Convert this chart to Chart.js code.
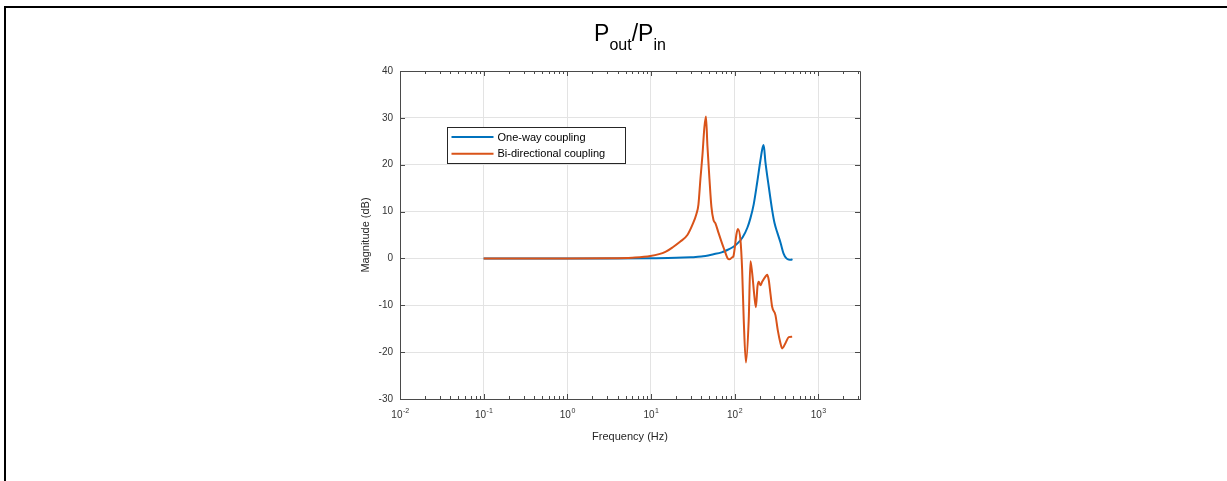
<!DOCTYPE html>
<html>
<head>
<meta charset="utf-8">
<script src="https://cdn.jsdelivr.net/npm/chart.js@4.4.1/dist/chart.umd.min.js"></script>
<style>
  html, body { margin: 0; padding: 0; background: #fff; }
  #wrap { position: relative; width: 1227px; height: 481px; overflow: hidden; background: #fff; }
  #frame { position: absolute; left: 4px; top: 6px; right: -4px; bottom: -4px; border-top: 2px solid #000; border-left: 2px solid #000; pointer-events: none; }
  #title { position: absolute; left: 400px; width: 460px; top: 22px; text-align: center; font: 23px "Liberation Sans", Arial, sans-serif; line-height: 23px; color: #000; }
  #title span { position: relative; top: 9px; font-size: 16px; }
  canvas { position: absolute; left: 0; top: 0; }
</style>
</head>
<body>
<div id="wrap">
  <canvas id="bode" width="1227" height="481"></canvas>
  <div id="title">P<span>out</span>/P<span>in</span></div>
  <div id="frame"></div>
</div>
<script>
// ---- data ----
const oneWayFreq = [0.1, 0.3, 1, 3, 10, 20, 30, 40, 56, 70, 82, 97, 107, 125, 142.6, 154.9, 169.7, 186.4, 204.1, 215.6, 222.8, 234.2, 256.6, 281.7, 300.1, 326.1, 354, 384.6, 417.7, 447.4, 472.6, 492.6];
const oneWayMag  = [0, 0, 0, 0, 0.05, 0.12, 0.25, 0.4, 0.9, 1.3, 1.8, 2.5, 3.1, 4.5, 6.6, 8.6, 11.6, 16.2, 21, 23.5, 24.2, 20.5, 15.3, 10.3, 7.6, 5.4, 3.4, 1.1, 0.0, -0.25, -0.3, -0.15];

const biDirFreq = [0.1, 0.3, 1, 3, 6, 9.87, 14.9, 18.6, 22.5, 27.3, 31.4, 35.0, 37.0, 39.1, 41.3, 43.6, 45.5, 47.4, 50.1, 52.9, 56.0, 59.1, 64.2, 69.7, 75.7, 82.2, 87, 93, 97, 101, 105, 109.5, 117.7, 123.3, 128.8, 136.8, 147.8, 154.9, 162.4, 173.0, 180.3, 187.9, 194.6, 204.0, 213.8, 233.9, 245.3, 256.4, 268.7, 281.5, 308.3, 328.6, 354.0, 370.6, 406.0, 444.8, 488.4];
const biDirMag  = [0, 0, 0, 0.03, 0.15, 0.5, 1.4, 2.5, 3.6, 5.0, 7.2, 9.5, 11.5, 17, 22, 28, 30.3, 24, 17, 11, 8.2, 7.5, 5.5, 3.6, 1.8, 0.1, -0.2, 0.2, 0.5, 2.5, 5, 6.3, 3.9, -2.5, -13.1, -22.2, -13, -0.6, -3.1, -8.2, -10.4, -6.0, -5, -5.7, -5, -3.9, -3.5, -4.6, -7.5, -10.3, -12.1, -15.3, -18.1, -19.2, -18.1, -16.8, -16.7];

const seriesLabels = ["One-way coupling", "Bi-directional coupling"];
const seriesColors = ["#0072BD", "#D95319"];

const yTicks = [-30, -20, -10, 0, 10, 20, 30, 40];
const xExponents = [-2, -1, 0, 1, 2, 3];
const X_MIN = 0.01, X_MAX = 3162.28;

const FONT = '"Liberation Sans", Arial, Helvetica, sans-serif';
const AXIS_COLOR = "#4a4a4a";
const GRID_COLOR = "#e3e3e3";
const TEXT_COLOR = "#333333";

const toPoints = (xs, ys) => xs.map((f, i) => ({ x: f, y: ys[i] }));
const isDecade = (v) => {
  if (!(v > 0)) return false;
  const l = Math.log10(v);
  return Math.abs(l - Math.round(l)) < 1e-6;
};

// MATLAB-ish box, inward ticks, superscript x labels
const boxPlugin = {
  id: "box",
  afterDraw(chart) {
    const { ctx, chartArea: a, scales } = chart;
    const x = scales.x, y = scales.y;
    const al = (v) => Math.round(v) + 0.5;
    ctx.save();
    ctx.strokeStyle = AXIS_COLOR;
    ctx.lineWidth = 1;
    ctx.beginPath();
    ctx.moveTo(al(a.left), al(a.top));
    ctx.lineTo(al(a.right), al(a.top));
    ctx.lineTo(al(a.right), al(a.bottom));
    ctx.stroke();

    // x ticks (major + minor), bottom and top, pointing inward
    ctx.beginPath();
    xExponents.forEach((e) => {
      for (let m = 1; m <= 9; m++) {
        const v = m * Math.pow(10, e);
        if (v < X_MIN || v > X_MAX) continue;
        const px = al(x.getPixelForValue(v));
        const len = m === 1 ? 5 : 3;
        ctx.moveTo(px, a.bottom);
        ctx.lineTo(px, a.bottom - len);
        ctx.moveTo(px, a.top);
        ctx.lineTo(px, a.top + len);
      }
    });
    // y ticks left and right
    yTicks.forEach((t) => {
      const py = al(y.getPixelForValue(t));
      ctx.moveTo(a.left, py);
      ctx.lineTo(a.left + 5, py);
      ctx.moveTo(a.right, py);
      ctx.lineTo(a.right - 5, py);
    });
    ctx.stroke();

    // x tick labels 10^n
    ctx.fillStyle = TEXT_COLOR;
    ctx.textBaseline = "alphabetic";
    ctx.textAlign = "left";
    xExponents.forEach((e) => {
      const px = x.getPixelForValue(Math.pow(10, e));
      ctx.font = "10px " + FONT;
      const bw = ctx.measureText("10").width;
      ctx.font = "7px " + FONT;
      const sup = String(e);
      const sw = ctx.measureText(sup).width;
      const start = px - (bw + sw) / 2;
      ctx.font = "10px " + FONT;
      ctx.fillText("10", start, a.bottom + 19);
      ctx.font = "7px " + FONT;
      ctx.fillText(sup, start + bw + 0.5, a.bottom + 14);
    });
    ctx.restore();
  },
};

// legend box inside the plot, upper left
const legendPlugin = {
  id: "inlegend",
  afterDatasetsDraw(chart) {
    const { ctx, chartArea: a } = chart;
    const bx = a.left + 47.5, by = a.top + 56.5, bw = 178, bh = 36;
    ctx.save();
    ctx.fillStyle = "#fff";
    ctx.fillRect(bx, by, bw, bh);
    ctx.strokeStyle = "#262626";
    ctx.lineWidth = 1;
    ctx.strokeRect(bx, by, bw, bh);
    ctx.font = "11px " + FONT;
    ctx.textBaseline = "middle";
    ctx.textAlign = "left";
    chart.data.datasets.forEach((ds, i) => {
      const ly = by + 9.5 + i * 16.7;
      ctx.strokeStyle = ds.borderColor;
      ctx.lineWidth = 2;
      ctx.beginPath();
      ctx.moveTo(bx + 4, ly);
      ctx.lineTo(bx + 46, ly);
      ctx.stroke();
      ctx.fillStyle = "#000";
      ctx.fillText(ds.label, bx + 50, ly + 0.5);
    });
    ctx.restore();
  },
};

new Chart(document.getElementById("bode"), {
  type: "line",
  data: {
    datasets: [
      {
        label: seriesLabels[0],
        data: toPoints(oneWayFreq, oneWayMag),
        borderColor: seriesColors[0],
        borderWidth: 2,
        pointRadius: 0,
        cubicInterpolationMode: "monotone",
        order: 2,
      },
      {
        label: seriesLabels[1],
        data: toPoints(biDirFreq, biDirMag),
        borderColor: seriesColors[1],
        borderWidth: 2,
        pointRadius: 0,
        cubicInterpolationMode: "monotone",
        order: 1,
      },
    ],
  },
  options: {
    responsive: false,
    devicePixelRatio: 1,
    animation: false,
    layout: { padding: { left: 350, right: 367, top: 71, bottom: 0 } },
    plugins: { legend: { display: false }, tooltip: { enabled: false } },
    scales: {
      x: {
        type: "logarithmic",
        min: X_MIN,
        max: X_MAX,
        afterFit: (s) => { s.height = 82; },
        ticks: { display: false },
        grid: {
          drawTicks: false,
          color: (c) => (c.tick && isDecade(c.tick.value) ? GRID_COLOR : "rgba(0,0,0,0)"),
        },
        border: { color: AXIS_COLOR, width: 1 },
        title: {
          display: true,
          text: "Frequency (Hz)",
          color: "#262626",
          font: { size: 11, family: FONT },
          padding: { top: 0, bottom: 37 },
        },
      },
      y: {
        min: -30,
        max: 40,
        afterFit: (s) => { s.width = 50; },
        afterBuildTicks: (s) => { s.ticks = yTicks.map((v) => ({ value: v })); },
        ticks: { color: TEXT_COLOR, font: { size: 10, family: FONT }, padding: 7 },
        grid: { drawTicks: false, color: GRID_COLOR },
        border: { color: AXIS_COLOR, width: 1 },
        title: {
          display: true,
          text: "Magnitude (dB)",
          color: "#262626",
          font: { size: 11, family: FONT },
          padding: { top: 9, bottom: 0 },
        },
      },
    },
  },
  plugins: [boxPlugin, legendPlugin],
});
</script>
</body>
</html>
